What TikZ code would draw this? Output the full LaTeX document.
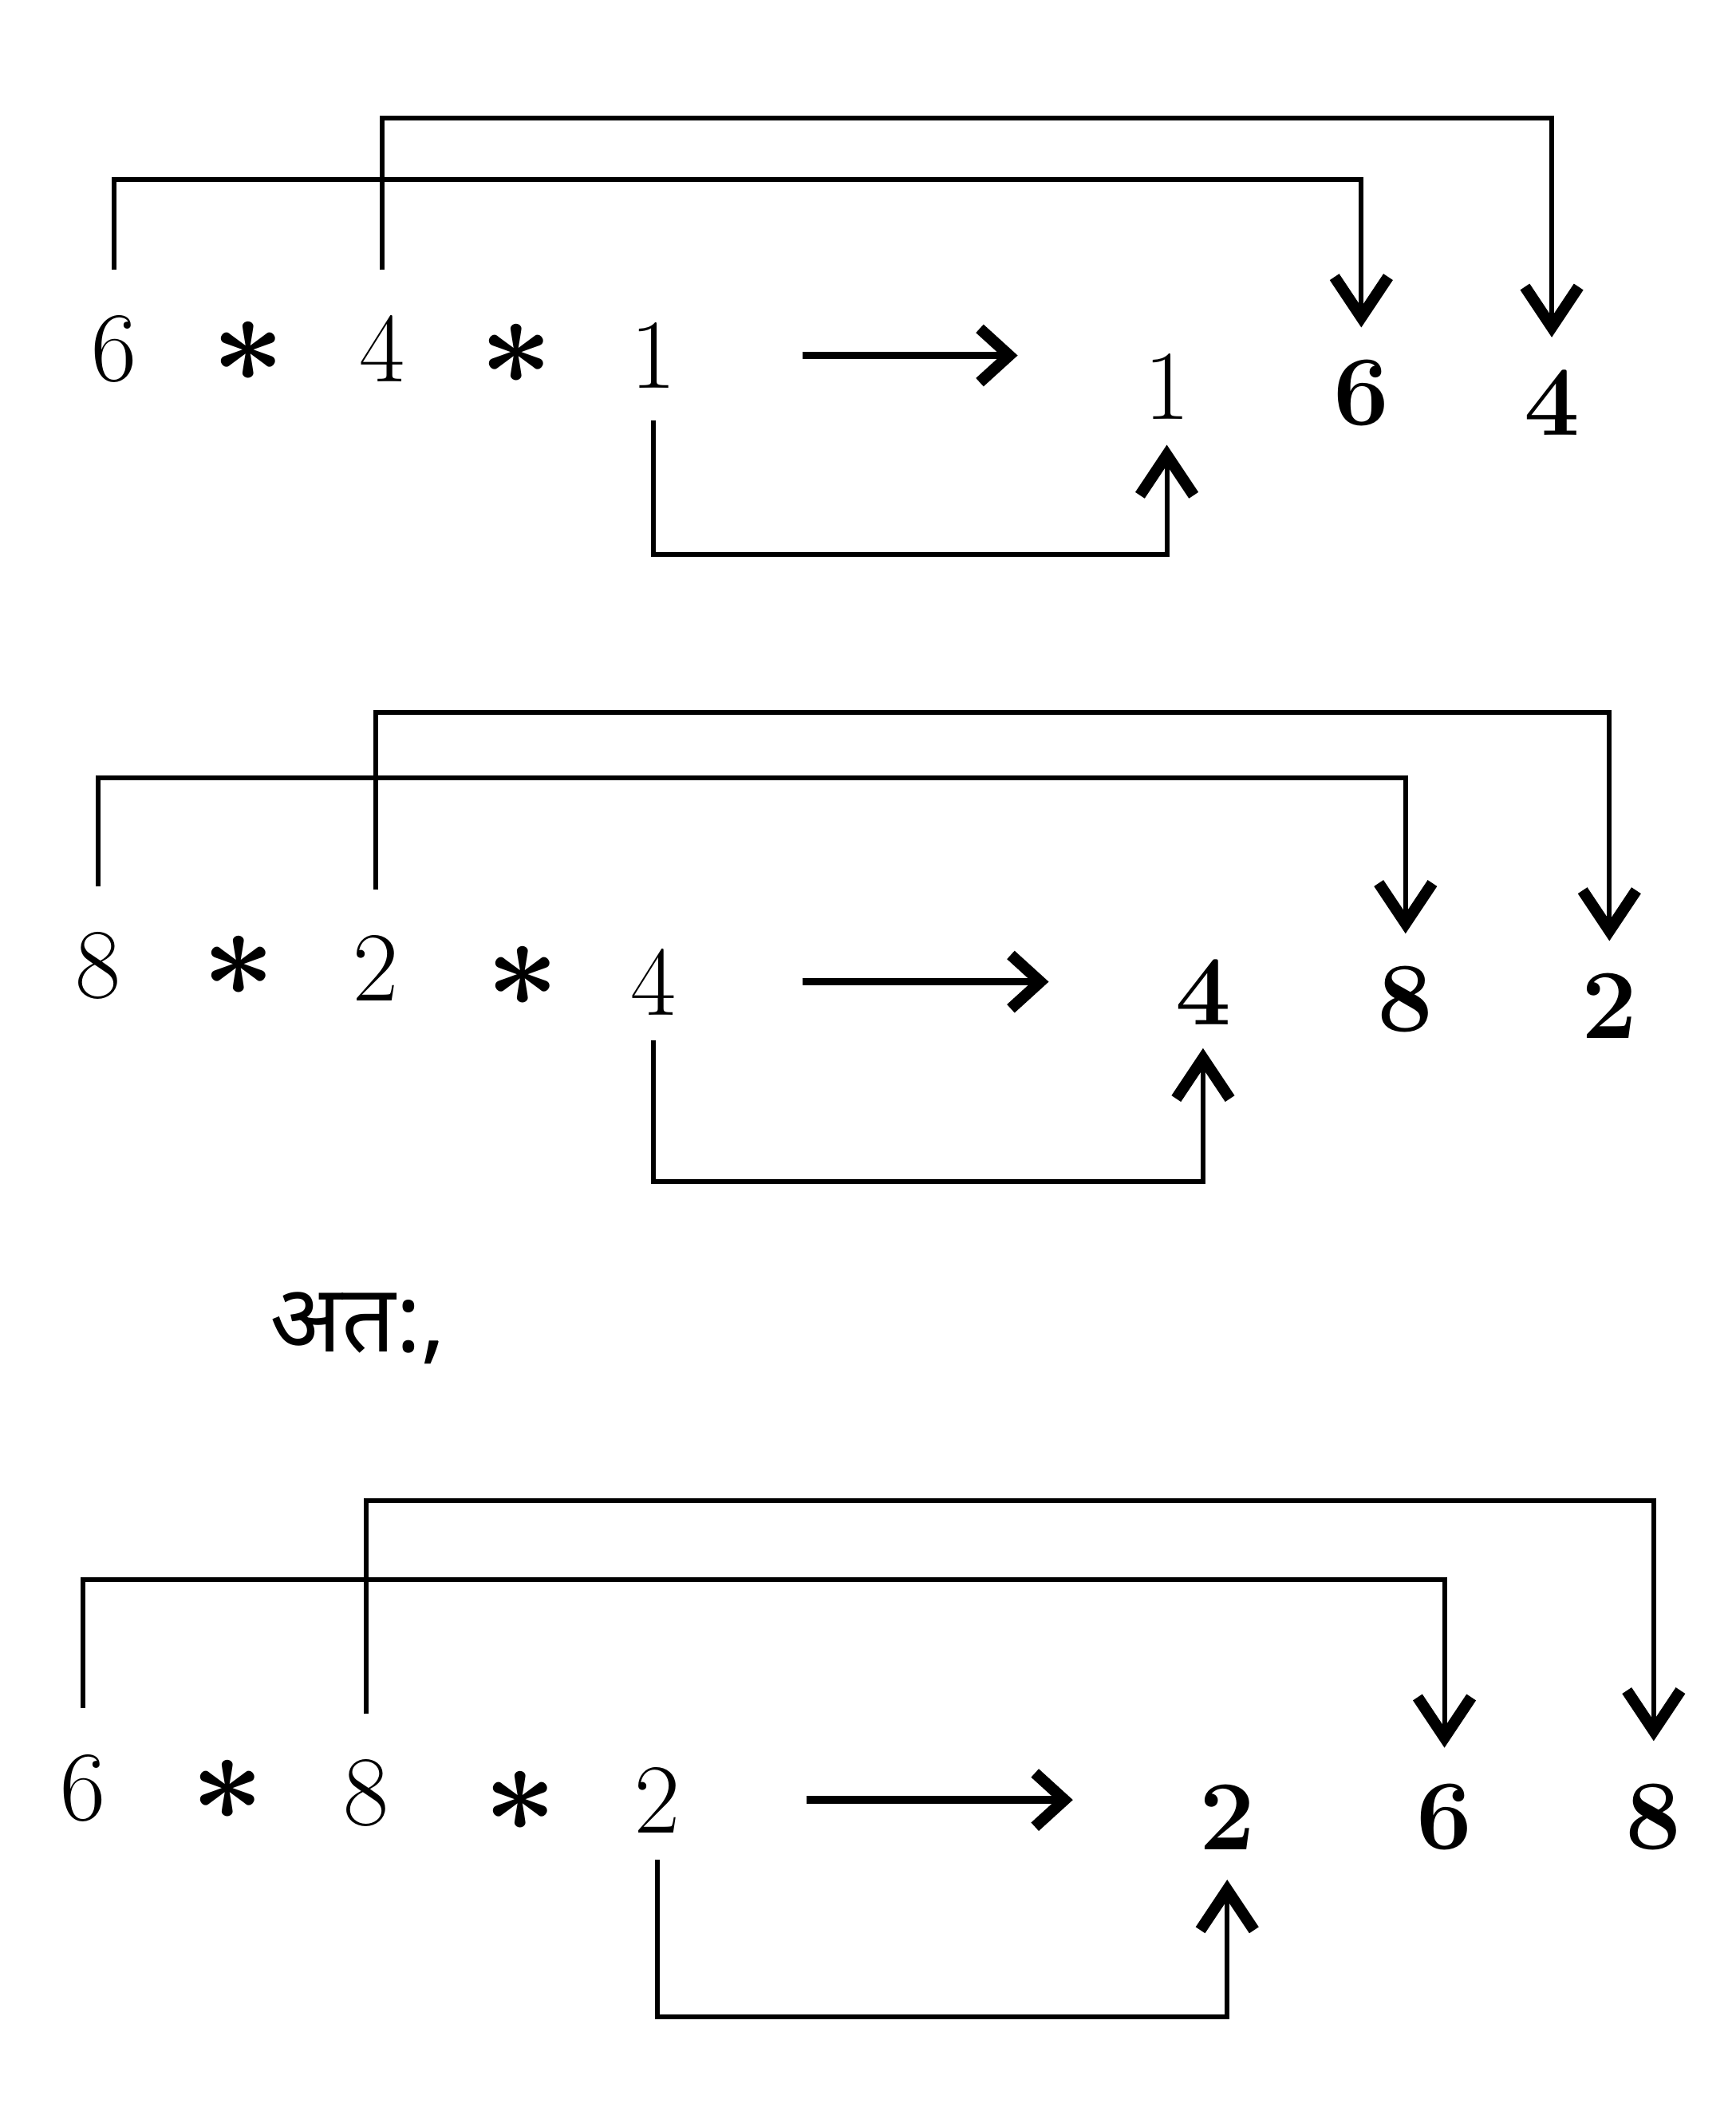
\documentclass[tikz,border=0pt]{standalone}
\usepackage{fontspec}
\newfontfamily\devfont[Script=Devanagari]{Noto Sans}
\usetikzlibrary{arrows.meta, positioning}

\begin{document}
\begin{tikzpicture}[
    x=0.01cm, y=-0.01cm,
    digit/.style={font=\fontsize{21}{25}\selectfont, inner sep=1pt},
    result/.style={font=\fontsize{21}{25}\selectfont\bfseries, inner sep=1pt},
    op/.style={font=\fontsize{21}{25}\selectfont\boldmath, inner sep=1pt, scale=1.3},
    link/.style={line width=1pt, -{Straight Barb[length=3mm, width=4mm, line width=2.4pt]}, shorten <=0.3cm, shorten >=0.2cm},
    maps/.style={line width=1.6pt, -{Straight Barb[length=2.2mm, width=4mm, line width=2.4pt]}, shorten <=0.9cm, shorten >=0.9cm},
]
    \useasboundingbox (0,0) rectangle (1294,1568);

    % First expression
    \node[digit] (aSix) at (85,260) {6};
    \node[op] (aStarA) at (185,262) {$\ast$};
    \node[digit] (aFour) at (285,260) {4};
    \node[op] (aStarB) at (385,264) {$\ast$};
    \node[digit] (aOne) at (487,265) {1};
    \node[digit] (aOutOne) at (870,288) {1};
    \node[result] (aOutSix) at (1015,293) {6};
    \node[result] (aOutFour) at (1157,300) {4};

    \draw[maps] (aOne.east) -- (aOne.east -| aOutOne.west);
    \draw[link] (aSix.north) -- ++(0,-97) -| (aOutSix.north);
    \draw[link] (aFour.north) -- ++(0,-143) -| (aOutFour.north);
    \draw[link, shorten <=0.2cm, shorten >=0.15cm] (aOne.south) -- ++(0,120) -| (aOutOne.south);

    % Second expression
    \node[digit] (bEight) at (73,720) {8};
    \node[op] (bStarA) at (178,720) {$\ast$};
    \node[digit] (bTwo) at (280,722) {2};
    \node[op] (bStarB) at (390,728) {$\ast$};
    \node[digit] (bFour) at (487,732) {4};
    \node[result] (bOutFour) at (897,740) {4};
    \node[result] (bOutEight) at (1048,745) {8};
    \node[result] (bOutTwo) at (1200,750) {2};

    \draw[maps] (bFour.east) -- (bFour.east -| bOutFour.west);
    \draw[link] (bEight.north) -- ++(0,-111) -| (bOutEight.north);
    \draw[link] (bTwo.north) -- ++(0,-162) -| (bOutTwo.north);
    \draw[link, shorten <=0.15cm, shorten >=0.13cm] (bFour.south) -- ++(0,120) -| (bOutFour.south);

    % Hence
    \node[font=\devfont\fontsize{20}{24}\selectfont] (hence) at (267,990) {अत:,};

    % Third expression
    \node[digit] (cSix) at (62,1333) {6};
    \node[op] (cStarA) at (170,1335) {$\ast$};
    \node[digit] (cEight) at (273,1337) {8};
    \node[op] (cStarB) at (388,1343) {$\ast$};
    \node[digit] (cTwo) at (490,1342) {2};
    \node[result] (cOutTwo) at (915,1355) {2};
    \node[result] (cOutSix) at (1077,1355) {6};
    \node[result] (cOutEight) at (1233,1355) {8};

    \draw[maps] (cTwo.east) -- (cTwo.east -| cOutTwo.west);
    \draw[link, shorten >=0.23cm] (cSix.north) -- ++(0,-126) -| (cOutSix.north);
    \draw[link, shorten >=0.28cm] (cEight.north) -- ++(0,-189) -| (cOutEight.north);
    \draw[link, shorten <=0.16cm, shorten >=0.18cm] (cTwo.south) -- ++(0,133) -| (cOutTwo.south);

\end{tikzpicture}
\end{document}
